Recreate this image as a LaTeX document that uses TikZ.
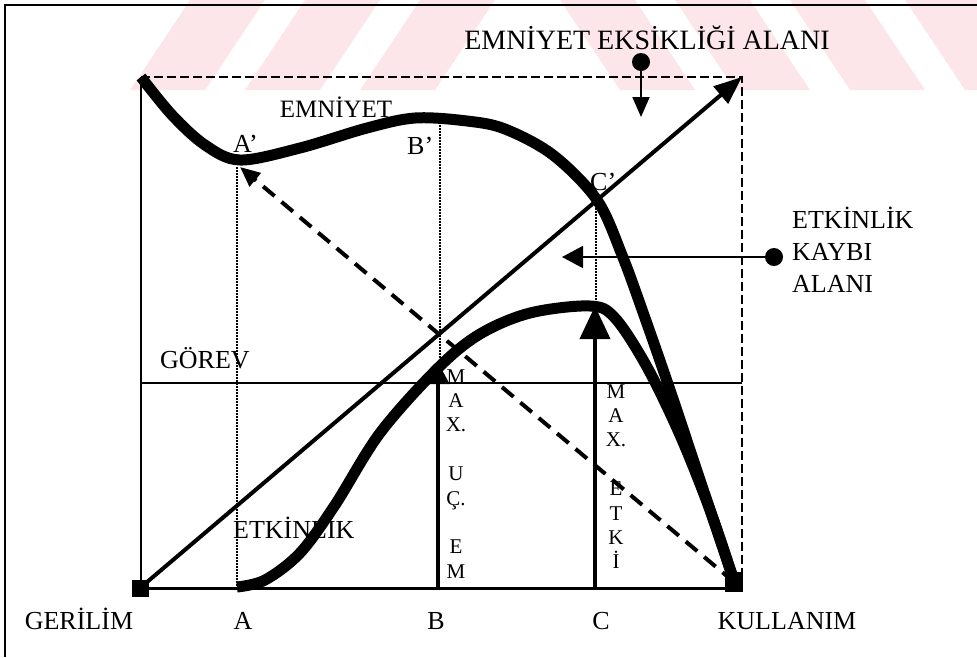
\documentclass[tikz,border=0pt]{standalone}
\usepackage{fontspec}
\setmainfont{Liberation Serif}
\usetikzlibrary{arrows.meta}
\definecolor{wmpink}{RGB}{253,230,234}
\begin{document}
\begin{tikzpicture}[x=1pt,y=-1pt,
  lbl/.style={font=\fontsize{26}{30}\selectfont, inner sep=0pt, anchor=base},
  biglbl/.style={font=\fontsize{28}{30}\selectfont, inner sep=0pt, anchor=base},
  vlet/.style={font=\fontsize{21}{24}\selectfont, inner sep=0pt, anchor=base},
  curvethick/.style={line width=11pt, line join=round, line cap=butt},
  dotline/.style={line width=1.5pt, dash pattern=on 1.5pt off 1.5pt},
  boxdash/.style={line width=2.5pt, dash pattern=on 9pt off 4pt},
  pointer/.style={line width=2pt, -{Triangle[length=20pt,width=17pt]}},
  dot/.style={circle, fill=black, inner sep=0pt, minimum size=18pt},
  sq/.style={rectangle, fill=black, inner sep=0pt}]
\useasboundingbox (0,0) rectangle (977,657);

% watermark band
\begin{scope}
\clip (0,0) rectangle (977,90);
\foreach \x in {190,305,420} \fill[wmpink] (\x,0) -- (\x+75,0) -- (\x+15,90) -- (\x-60,90) -- cycle;
\foreach \x in {560,675,790,905} \fill[wmpink] (\x,0) -- (\x+75,0) -- (\x+135,90) -- (\x+60,90) -- cycle;
\end{scope}

% frame
\draw[line width=2pt] (977,5) -- (5,5) -- (5,657);

% key points
\coordinate (TL) at (141,77);
\coordinate (TR) at (742,77);
\coordinate (BR) at (742,588);
\coordinate (BL) at (141,588);
\coordinate (Atop) at (237,167);
\coordinate (Abot) at (237,588);
\coordinate (Btop) at (440,125);
\coordinate (Bmid) at (440,362);
\coordinate (Bbot) at (438,588);
\coordinate (Bhead) at (438,362);
\coordinate (Ctop) at (596,205);
\coordinate (Cmid) at (596,307);
\coordinate (Cbot) at (595,588);
\coordinate (Chead) at (595,306);
\coordinate (GL) at (141,383);
\coordinate (GR) at (742,383);
\coordinate (Aptip) at (240,167);

% dashed box, axes
\draw[boxdash] (TL) -- (TR) -- (BR);
\draw[line width=2pt] (TL) -- (BL);
\draw[line width=3pt] (BL) -- (BR);
\draw[line width=2pt] (GL) -- (GR);

% dotted verticals
\draw[dotline] (Atop) -- (Abot);
\draw[dotline] (Btop) -- (Bmid);
\draw[dotline] (Ctop) -- (Cmid);

% corner squares
\node[sq, minimum width=17pt, minimum height=17pt] (G) at (140,588) {};
\node[sq, minimum width=18pt, minimum height=20pt] (K) at (734,582) {};

% EMNIYET curve
\draw[curvethick] plot[smooth, tension=0.55] coordinates {(141,77) (172,115) (205,145) (240,160) (300,148) (367,128) (415,118) (467,121) (505,129) (553,155) (597,200) (622,255) (645,318) (670,390) (700,480) (733,578)};

% ETKINLIK curve
\draw[curvethick] plot[smooth, tension=0.55] coordinates {(237,587) (265,580) (300,553) (335,505) (380,433) (438,368) (480,334) (530,313) (590,306) (615,318) (647,367) (680,435) (710,510) (733,578)};

% diagonal arrow
\draw[line width=4pt, -{Triangle[length=28pt,width=22pt]}] (G.center) -- (TR);
% dashed arrow
\draw[line width=4pt, dash pattern=on 15pt off 9pt, -{Triangle[length=20pt,width=17pt]}] (K.center) -- (Aptip);

% vertical arrows
\draw[line width=4pt, -{Triangle[length=22pt,width=22pt]}] (Bbot) -- (Bhead);
\draw[line width=4pt, -{Triangle[length=33pt,width=30pt]}] (Cbot) -- (Chead);

% area pointers
\node[dot] (d1) at (641,62) {};
\coordinate (d1t) at (641,117);
\draw[pointer] (d1.center) -- (d1t);
\node[dot] (d2) at (774,257) {};
\coordinate (d2t) at (562,257);
\draw[line width=2pt, -{Triangle[length=21pt,width=22pt]}] (d2.center) -- (d2t);

% labels
\node[biglbl] (eea) at (647,49) {EMNİYET EKSİKLİĞİ ALANI};
\node[font=\fontsize{25}{30}\selectfont, inner sep=0pt, anchor=base] (emn) at (336,117) {EMNİYET};
\node[lbl, anchor=base west] (ap) at (233,152) {A’};
\node[lbl, anchor=base west] (bp) at (407,154) {B’};
\node[lbl, anchor=base west] (cp) at (590,190) {C’};
\node[lbl, anchor=base west] (gor) at (160,368) {GÖREV};
\node[lbl, anchor=base west] (etk) at (233,538) {ETKİNLİK};
\node[lbl, anchor=base west] (ek1) at (792,228) {ETKİNLİK};
\node[lbl, anchor=base west] (ek2) at (792,260) {KAYBI};
\node[lbl, anchor=base west] (ek3) at (792,292) {ALANI};
\node[lbl] (lg) at (79,629) {GERİLİM};
\node[lbl] (la) at (243,629) {A};
\node[lbl] (lb) at (436,629) {B};
\node[lbl] (lc) at (601,629) {C};
\node[lbl] (lk) at (787,629) {KULLANIM};

% vertical letter stacks
\foreach \t [count=\i] in {M,A,X.,,U,Ç.,,E,M}
  \node[vlet] (bs\i) at (456,{383+24.4*(\i-1)}) {\t};
\foreach \t [count=\i] in {M,A,X.,,E,T,K,İ}
  \node[vlet] (cs\i) at (616,{398+24.4*(\i-1)}) {\t};
\end{tikzpicture}
\end{document}
